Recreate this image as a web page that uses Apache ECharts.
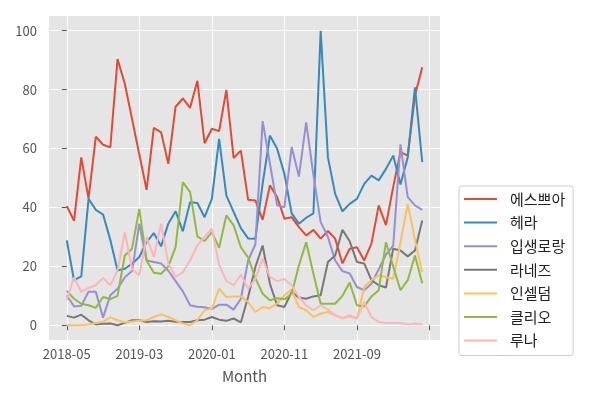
<!DOCTYPE html>
<html>
<head>
<meta charset="utf-8">
<script src="https://cdn.jsdelivr.net/npm/echarts@6/dist/echarts.min.js"></script>
<style>html,body{margin:0;padding:0;background:#fff}#c{width:600px;height:400px}</style>
</head>
<body>
<div id="c"></div>
<script>
const months = ["2018-05","2018-06","2018-07","2018-08","2018-09","2018-10","2018-11","2018-12",
"2019-01","2019-02","2019-03","2019-04","2019-05","2019-06","2019-07","2019-08","2019-09","2019-10","2019-11","2019-12",
"2020-01","2020-02","2020-03","2020-04","2020-05","2020-06","2020-07","2020-08","2020-09","2020-10","2020-11","2020-12",
"2021-01","2021-02","2021-03","2021-04","2021-05","2021-06","2021-07","2021-08","2021-09","2021-10","2021-11","2021-12",
"2022-01","2022-02","2022-03","2022-04","2022-05","2022-06"];
const xTickIdx = [0,10,20,30,40,50];
const xLabelIdx = [0,10,20,30,40];
const yTicks = [0,20,40,60,80,100];
const seriesNames = ["에스쁘아","헤라","입생로랑","라네즈","인셀덤","클리오","루나"];
const espoir = [40.5,35.5,57,43,64,61.3,60.4,90.4,82,70,58,46,67,65.5,54.8,74.2,77,73.8,83,61.8,66.7,65.9,79.9,56.8,59.3,42.6,42.4,35.8,47.5,43.5,36.2,36.7,33.3,30.5,32.4,29.4,32,29.4,21,26,26.5,22,27.7,40.7,34,47,58.8,57.6,78,87.6];
const hera = [28.8,15.3,16.6,42.9,39.2,37.6,29,18.6,19.2,20.9,23.2,28.2,31.3,26.8,34.5,38.7,31.9,41.8,41.5,36.7,42.9,63.3,44,38.5,33,29.5,29.4,48,64.4,59.9,51.4,38,34.5,36.5,38,100,57,44.6,38.7,41.2,42.9,48,50.8,49.2,53.1,57.6,47.8,57,80.8,55.4];
const ysl = [10.2,6.4,6.6,11.4,11.4,2.6,10.2,12.4,16.3,18.4,34.5,22,21.5,21,18.5,15,11.5,6.8,6.3,6.1,5.5,7,7,5.3,9,22,27.5,69.3,55,40.7,40.1,60.5,50.5,68.9,51,35,30,22,18.4,17.6,13,11.9,14.1,19,24,27,61.4,43.5,40.7,39.2];
const laneige = [3.2,2.6,3.6,1.7,0.3,0.5,0.6,0,0.8,1.7,1.7,1.1,1.4,1.3,1.5,1.2,1.1,1.1,1.7,1.9,2.8,1.9,1.5,2.3,1.0,9.6,19.8,27.1,14.1,6.8,6.2,11.3,9.4,9,9.8,10.2,21.5,23.7,32.4,28.5,21.5,21,15.3,13.6,12.8,26,25.4,23.4,25.4,35.6];
const incellderm = [0,0,0,0.3,0.8,1.2,2.7,1.7,1,1.3,1.5,1.7,2.8,3.7,2.8,1.7,0.6,0,1.7,5.1,5.6,12.4,9.6,9.8,9.8,7.9,4.5,6.2,5.8,7.4,10.2,12.1,6.2,5.1,2.8,4,4.5,3.4,2.5,3,2.3,13,15.3,17,16.4,15.8,28,41.2,29,18];
const clio = [11.7,9,7.3,6.8,5.9,9.6,8.9,10,23.7,26,39.5,22,17.8,17.5,20,26.5,48.6,45.2,30.2,28.6,31.6,26.3,37.3,33.9,26.5,23,16,10.7,8.5,9.2,8.8,10.7,20.3,28.2,17.5,7.3,7.3,7.3,10,14.5,6.8,6.4,9.8,11.9,28.2,20,11.9,15.3,23.7,14.3];
const luna = [8.6,16.2,11.3,12.7,13.6,16.1,13.6,18.6,31.6,19,17,30,23.2,34.5,21,16.4,18,22,27.1,30,32.8,20.5,15,13.6,17.2,12.4,15.8,22.6,16.4,15,15.7,13.6,9.6,6.8,5.1,6.8,5.3,3.4,2.4,3.4,2.3,7.9,2.8,1.1,0.8,0.8,0.8,0.3,0.6,0.3];
const seriesValues = [espoir, hera, ysl, laneige, incellderm, clio, luna];
const colors = ["#E24A33","#348ABD","#988ED5","#777777","#FBC15E","#8EBA42","#FFB5B8"];

const font = "'Noto Sans CJK KR','Noto Sans',sans-serif";
const chart = echarts.init(document.getElementById('c'));
chart.setOption({
  animation: false,
  color: colors,
  grid: { left: 49, right: 160, top: 16, bottom: 60, show: true, backgroundColor: '#E5E5E5', borderWidth: 0 },
  xAxis: {
    type: 'value', min: -2.45, max: 51.45,
    name: 'Month', nameLocation: 'middle', nameGap: 29,
    nameTextStyle: { fontFamily: font, fontSize: 15, color: '#555555' },
    axisLine: { show: false },
    axisTick: { show: true, length: 5, lineStyle: { color: '#555555', width: 1 }, customValues: xTickIdx },
    axisLabel: { customValues: xLabelIdx, margin: 8, fontFamily: font, fontSize: 13, color: '#555555',
      formatter: v => months[Math.round(v)] || '' },
    splitLine: { show: true, lineStyle: { color: '#FFFFFF', width: 1 } }
  },
  yAxis: {
    type: 'value', min: -5, max: 105,
    axisLine: { show: false },
    axisTick: { show: true, length: 5, lineStyle: { color: '#555555', width: 1 }, customValues: yTicks },
    axisLabel: { customValues: yTicks, margin: 12, fontFamily: font, fontSize: 13, color: '#555555' },
    splitLine: { show: true, lineStyle: { color: '#FFFFFF', width: 1 } }
  },
  legend: {
    orient: 'vertical', left: 459, top: 186,
    data: seriesNames.map(n => ({ name: n, icon: 'rect' })),
    itemWidth: 33, itemHeight: 2, itemGap: 7.6,
    padding: [5, 8, 7, 5],
    backgroundColor: '#FFFFFF', borderColor: '#CCCCCC', borderWidth: 1, borderRadius: 3,
    textStyle: { fontFamily: font, fontSize: 15, color: '#222222', lineHeight: 16, padding: [0, 0, 0, 8] }
  },
  series: seriesNames.map((n, k) => ({
    name: n, type: 'line', showSymbol: false, symbol: 'none',
    lineStyle: { width: 2, color: colors[k] },
    itemStyle: { color: colors[k] },
    data: seriesValues[k].map((v, i) => [i, v])
  }))
});
</script>
</body>
</html>
